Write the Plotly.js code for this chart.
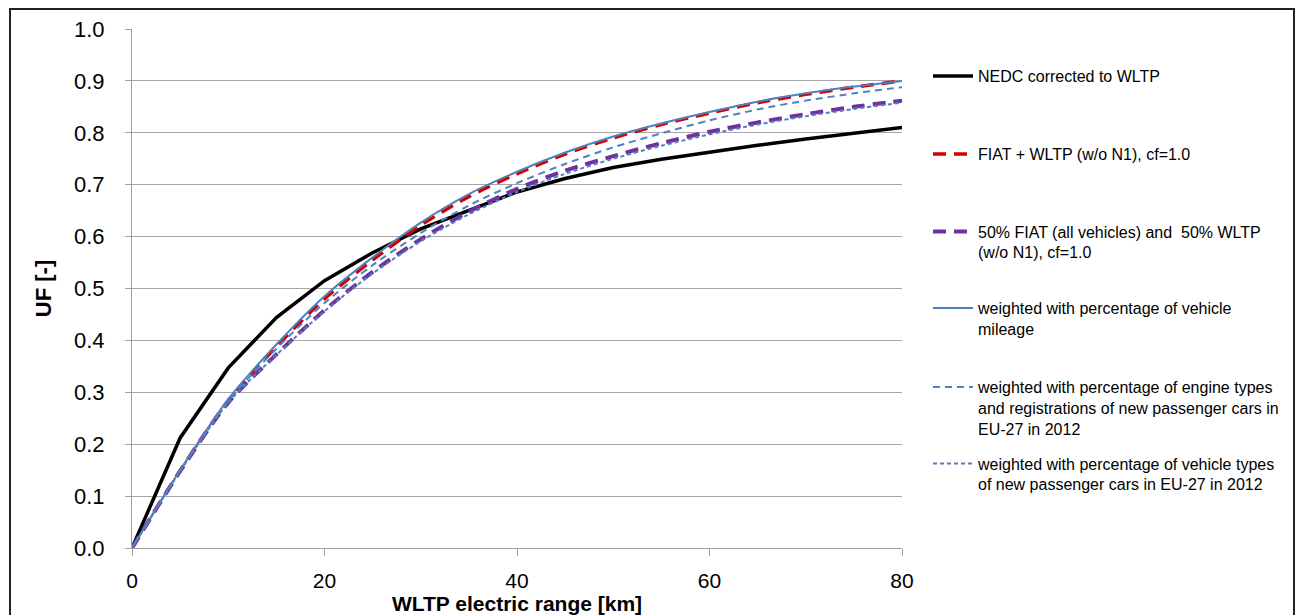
<!DOCTYPE html>
<html>
<head>
<meta charset="utf-8">
<script src="https://cdn.plot.ly/plotly-3.0.1.min.js"></script>
<style>
html,body{margin:0;padding:0;background:#fff;}
#chart{width:1300px;height:615px;}
</style>
</head>
<body>
<div id="chart"></div>
<script>
// ---- data ----
const rangeKm = [0, 5, 10, 15, 20, 25, 30, 35, 40, 45, 50, 55, 60, 65, 70, 75, 80];
const nedcCorrected = [0, 0.212, 0.347, 0.444, 0.515, 0.569, 0.615, 0.651, 0.686, 0.712, 0.733, 0.749, 0.763, 0.776, 0.788, 0.799, 0.810];
const fiatWltp = [0, 0.149, 0.284, 0.388, 0.480, 0.555, 0.622, 0.677, 0.721, 0.759, 0.790, 0.816, 0.838, 0.858, 0.874, 0.888, 0.900];
const fiftyFiat = [0, 0.148, 0.280, 0.373, 0.458, 0.532, 0.595, 0.648, 0.692, 0.727, 0.755, 0.780, 0.802, 0.820, 0.836, 0.850, 0.862];
const weightedMileage = [0, 0.150, 0.287, 0.392, 0.485, 0.560, 0.627, 0.682, 0.725, 0.762, 0.793, 0.818, 0.840, 0.860, 0.876, 0.889, 0.900];
const weightedEngine = [0, 0.149, 0.283, 0.384, 0.472, 0.545, 0.607, 0.660, 0.703, 0.740, 0.772, 0.799, 0.824, 0.845, 0.862, 0.876, 0.888];
const weightedVehicle = [0, 0.148, 0.280, 0.372, 0.456, 0.529, 0.591, 0.643, 0.686, 0.721, 0.750, 0.775, 0.797, 0.816, 0.832, 0.846, 0.858];

const seriesNames = [
  "NEDC corrected to WLTP",
  "FIAT + WLTP (w/o N1), cf=1.0",
  "50% FIAT (all vehicles) and  50% WLTP<br>(w/o N1), cf=1.0",
  "weighted with percentage of vehicle<br>mileage",
  "weighted with percentage of engine types<br>and registrations of new passenger cars in<br>EU-27 in 2012",
  "weighted with percentage of vehicle types<br>of new passenger cars in EU-27 in 2012"
];
const xTickVals = [0, 20, 40, 60, 80];

// ---- styling ----
const narrow = "'Liberation Sans Narrow', 'Arial Narrow', 'Liberation Sans', Arial, sans-serif";
const regular = "'Liberation Sans', Arial, sans-serif";
const blue = "#4F81BD";

const series = [
  {y: nedcCorrected, color: "#000000", width: 3.5, dash: "solid", shape: "linear"},
  {y: fiatWltp, color: "#D40000", width: 3.5, dash: "13px,8px", shape: "spline"},
  {y: fiftyFiat, color: "#7030A0", width: 4, dash: "13px,8px", shape: "spline"},
  {y: weightedMileage, color: blue, width: 2, dash: "solid", shape: "spline"},
  {y: weightedEngine, color: blue, width: 2, dash: "7px,5px", shape: "spline"},
  {y: weightedVehicle, color: blue, width: 2, dash: "4px,3px", shape: "spline"}
];

// geometry in px
const W = 1300, H = 615;
const plotL = 132, plotW = 770, plotT = 29, plotH = 519;
const marginR = 6;
const paperW = W - plotL - marginR;
const legendCentersPx = [76, 154, 242, 318.5, 408, 474];
const legendLeftPx = 928;

const traces = series.map((s, i) => ({
  type: "scatter",
  mode: "lines",
  x: rangeKm,
  y: s.y,
  name: seriesNames[i],
  line: {color: s.color, width: s.width, dash: s.dash, shape: s.shape, smoothing: 0.8},
  legend: i === 0 ? "legend" : "legend" + (i + 1),
  hoverinfo: "x+y"
}));

const layout = {
  width: W,
  height: H,
  margin: {l: plotL, r: marginR, t: plotT, b: H - plotT - plotH, pad: 0},
  paper_bgcolor: "#ffffff",
  plot_bgcolor: "#ffffff",
  showlegend: true,
  xaxis: {
    domain: [0, plotW / paperW],
    range: [0, 80],
    tickvals: xTickVals,
    ticktext: xTickVals.map(String),
    ticks: "outside",
    ticklen: 7,
    tickcolor: "#a0a0a0",
    showline: true,
    linecolor: "#a0a0a0",
    linewidth: 1,
    showgrid: false,
    zeroline: false,
    tickfont: {family: narrow, size: 21, color: "#000"},
    ticklabelstandoff: 7,
    title: {text: "<b>WLTP electric range [km]</b>", font: {family: narrow, size: 21, color: "#000"}, standoff: 10}
  },
  yaxis: {
    range: [0, 1],
    dtick: 0.1,
    tick0: 0,
    tickformat: ".1f",
    ticks: "outside",
    ticklen: 6,
    tickcolor: "#a0a0a0",
    showline: true,
    linecolor: "#a0a0a0",
    linewidth: 1,
    showgrid: true,
    gridcolor: "#a6a6a6",
    gridwidth: 1,
    zeroline: false,
    tickfont: {family: regular, size: 22, color: "#000"},
    ticklabelstandoff: 16,
    title: {text: "<b>UF [-]</b>", font: {family: regular, size: 22, color: "#000"}, standoff: 16}
  },
  shapes: [{
    type: "rect", xref: "paper", yref: "paper",
    x0: (10 - plotL) / paperW, x1: (1294 - plotL) / paperW,
    y0: (plotT + plotH - 640) / plotH, y1: (plotT + plotH - 9) / plotH,
    line: {color: "#222", width: 2}, fillcolor: "rgba(0,0,0,0)", layer: "below"
  }]
};

legendCentersPx.forEach((py, i) => {
  const key = i === 0 ? "legend" : "legend" + (i + 1);
  layout[key] = {
    x: (legendLeftPx - plotL) / paperW,
    xanchor: "left",
    y: (plotT + plotH - py) / plotH,
    yanchor: "middle",
    valign: "top",
    bgcolor: "rgba(0,0,0,0)",
    borderwidth: 0,
    itemwidth: 40,
    font: {family: regular, size: 16, color: "#000"}
  };
});

Plotly.newPlot("chart", traces, layout, {displayModeBar: false, staticPlot: true});
</script>
</body>
</html>
